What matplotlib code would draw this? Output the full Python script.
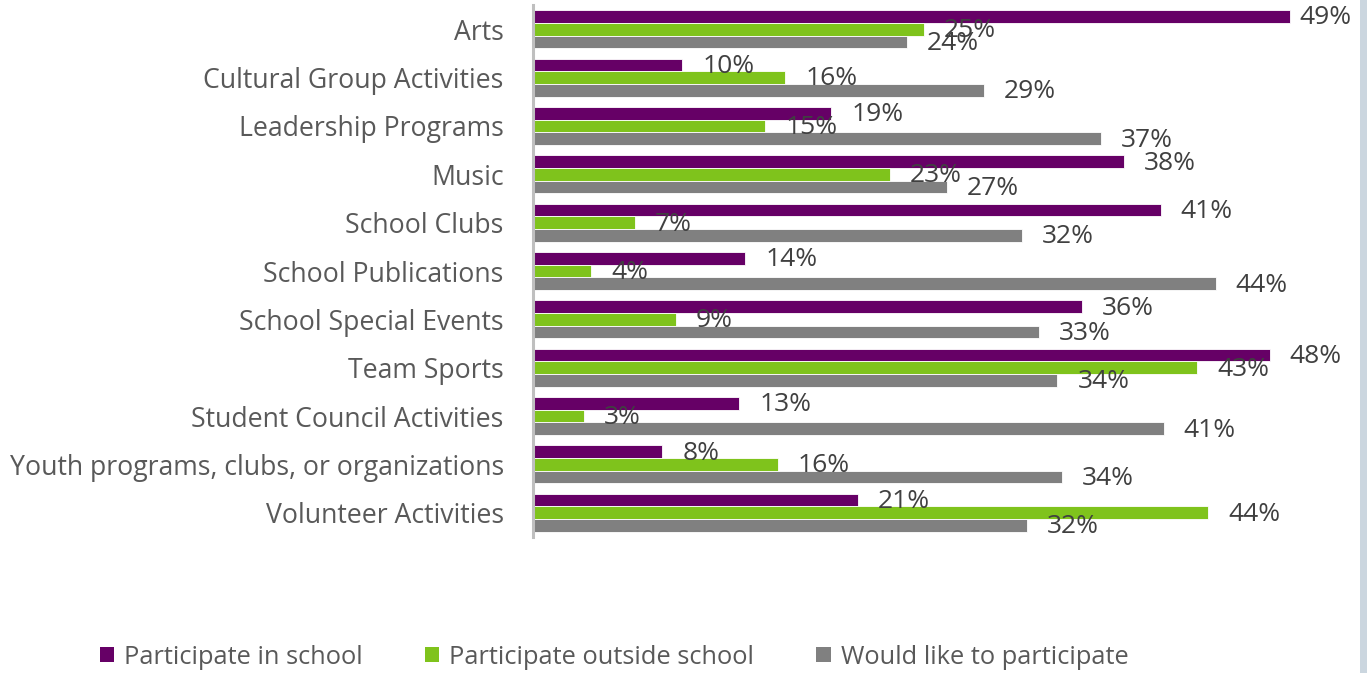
# Grouped horizontal bar chart: school activity participation
import numpy as np
import matplotlib
matplotlib.use('Agg')
import matplotlib.pyplot as plt
from matplotlib.patches import Patch, Rectangle

plt.rcParams['font.family'] = ['Open Sans', 'DejaVu Sans']

categories = ['Arts', 'Cultural Group Activities', 'Leadership Programs', 'Music',
              'School Clubs', 'School Publications', 'School Special Events',
              'Team Sports', 'Student Council Activities',
              'Youth programs, clubs, or organizations', 'Volunteer Activities']

in_school = [49.2, 9.7, 19.4, 38.4, 40.8, 13.8, 35.7, 47.9, 13.4, 8.4, 21.1]
outside_school = [25.4, 16.4, 15.1, 23.2, 6.6, 3.8, 9.3, 43.2, 3.3, 15.9, 43.9]
would_like = [24.3, 29.3, 36.9, 26.9, 31.8, 44.4, 32.9, 34.1, 41.0, 34.4, 32.1]

series = [('Participate in school', in_school, '#660066'),
          ('Participate outside school', outside_school, '#7FC31C'),
          ('Would like to participate', would_like, '#808080')]

W, H = 1367, 673
fig = plt.figure(figsize=(W / 100, H / 100), dpi=100)
ax = fig.add_axes([533 / W, (H - 537) / H, 769 / W, 532 / H])

y = np.arange(len(categories))
bh = 0.262
lab_col = '#404040'
for i, (name, vals, c) in enumerate(series):
    off = (i - 1) * bh
    ax.barh(y + off, vals, height=bh, color=c, edgecolor='white', linewidth=0.6)
    for yy, v in zip(y + off, vals):
        # the longest bar's label sits a bit closer so it fits
        xt = v + 1.3 if v < 49 else v + 0.6
        ax.text(xt, yy + 0.03, '{:.0f}%'.format(v), va='center', ha='left',
                fontsize=19, color=lab_col)

ax.set_xlim(0, 50)
ax.set_ylim(len(categories) - 0.5, -0.5)
ax.set_yticks(y)
ax.set_yticklabels(categories, fontsize=19.2, color='#595959')
ax.tick_params(axis='y', length=0, pad=21)
ax.set_xticks([])
for s in ['top', 'right', 'bottom']:
    ax.spines[s].set_visible(False)
ax.spines['left'].set_color('#BFBFBF')
ax.spines['left'].set_linewidth(2.2)

handles = [Patch(facecolor=c, edgecolor='none', label=n) for n, _, c in series]
fig.legend(handles=handles, loc='center', bbox_to_anchor=(614 / W, 1 - 657 / H),
           ncol=3, frameon=False, fontsize=18.3, handlelength=0.56, handleheight=0.56,
           handletextpad=0.4, columnspacing=2.45, labelcolor='#595959')

# light strip on the right edge
fig.patches.append(Rectangle((1360 / W, 0), 7 / W, 1, transform=fig.transFigure,
                             facecolor='#CBD6DF', edgecolor='none'))

plt.savefig('out.png', dpi=100)
